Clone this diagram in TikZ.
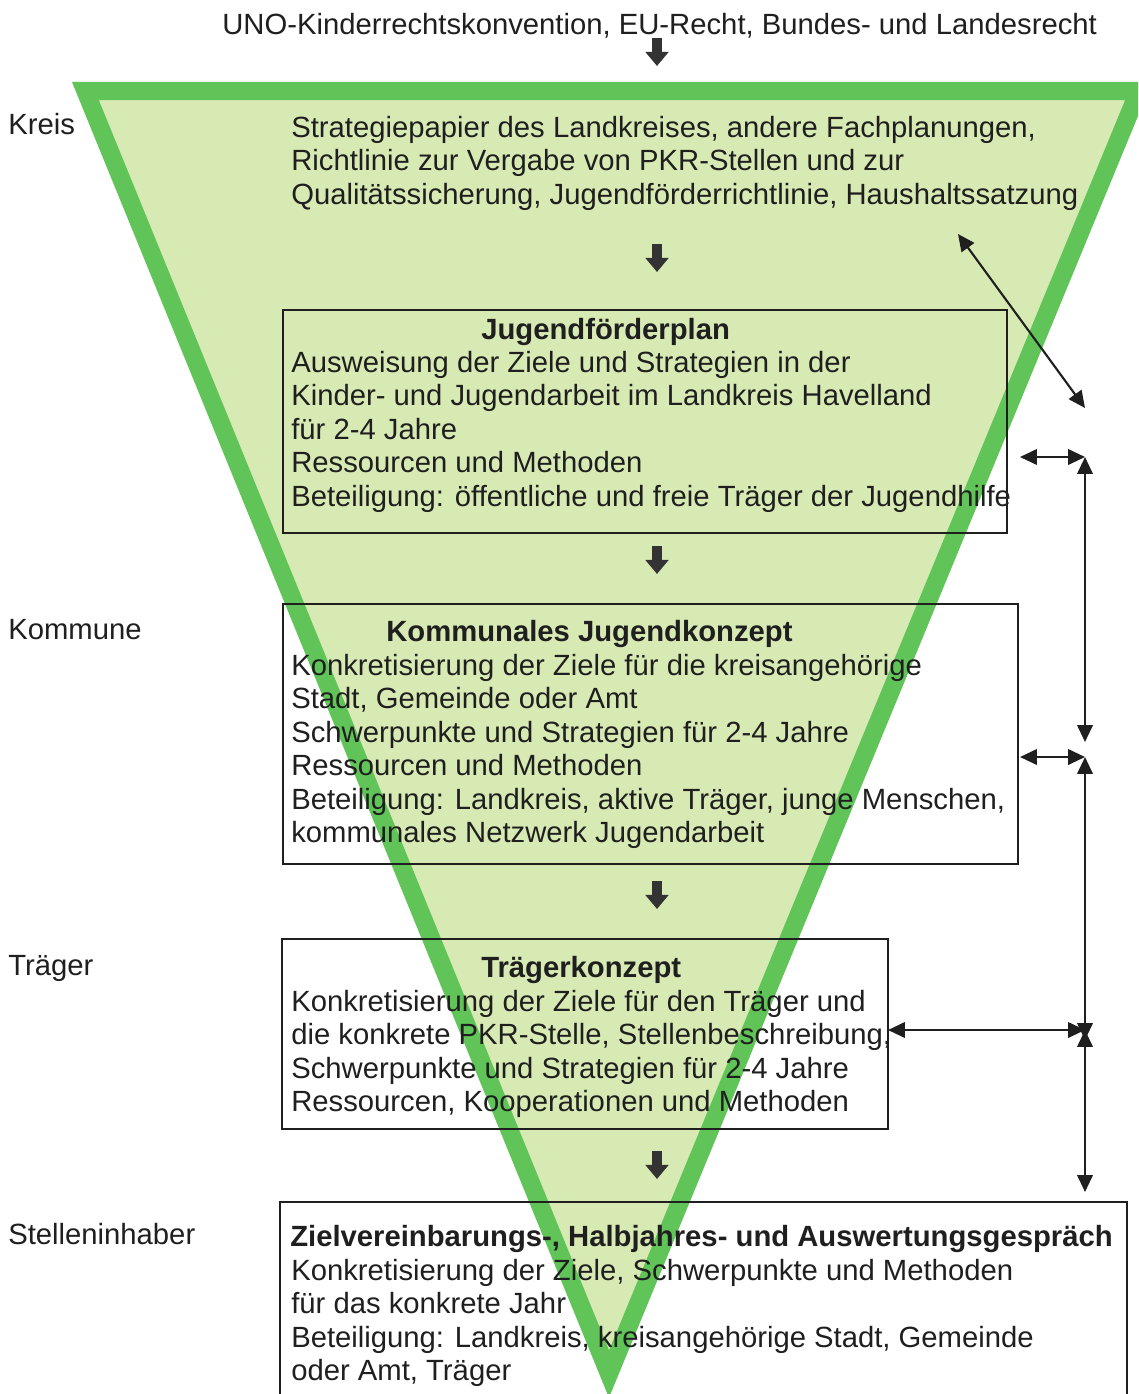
\documentclass[tikz,border=0pt]{standalone}
\usepackage{fontspec}
\setmainfont{Liberation Sans}
\usetikzlibrary{positioning,fit,arrows.meta}

\def\funnel{(85.4,91) -- (1138.6,91) -- (609,1374) -- cycle}
\definecolor{funnel area}{RGB}{216,234,180}
\definecolor{funnel edge}{RGB}{96,196,88}
\colorlet{ink}{black!88}
\tikzset{
  filled/.style={fill=funnel area},
  outline/.style={draw=funnel edge, line width=0.45cm, line join=miter},
  box/.style={draw=ink, line width=1.4pt, inner sep=0pt},
  txt/.style={font=\fontsize{20.8}{23.8}\selectfont, text=ink, align=left, anchor=base west, inner sep=0pt},
  title/.style={txt, font=\fontsize{20.8}{23.8}\selectfont\bfseries},
  fat/.style={draw=black!80, line width=7pt, -{Triangle[length=10pt,width=16pt]}}
  }
\tikzstyle{link} = [draw=ink, line width=1.5pt, >={Triangle[length=12pt,width=11pt]}, <->]

\begin{document}
\begin{tikzpicture}[x=0.025cm, y=-0.025cm]
  \clip (0,0) rectangle (1138,1394);
  \fill[white] (0,0) rectangle (1138,1394);

  \fill[filled] \funnel;
  \draw[outline] \funnel;

  \node[box, fit={(283,310) (1007,533)}] (plan) {};
  \node[box, fit={(283,604) (1018,864)}] (kommune) {};
  \node[box, fit={(282,939) (888,1129)}] (traeger) {};
  \node[box, fit={(280,1202) (1127,1430)}] (stelle) {};

  \foreach \pos/\name/\label in {{(8,134)/kreisL/Kreis}, {(8,639)/kommuneL/Kommune},
      {(8,975)/traegerL/Träger}, {(8,1244)/stelleL/Stelleninhaber}} {
    \node[txt] (\name) at \pos {\label};
  }

  % multi-line texts sit on the baseline of their last line
  \node[txt] (recht) at (222,34) {UNO-Kinderrechtskonvention, EU-Recht, Bundes- und Landesrecht};
  \node[txt] (papier) at (291,204) {Strategiepapier des Landkreises, andere Fachplanungen,\\
    Richtlinie zur Vergabe von PKR-Stellen und zur\\
    Qualitätssicherung, Jugendförderrichtlinie, Haushaltssatzung};

  \node[title] (planT) at (481,339) {Jugendförderplan};
  \node[txt] (planB) at (291,506) {Ausweisung der Ziele und Strategien in der\\
    Kinder- und Jugendarbeit im Landkreis Havelland\\
    für 2-4 Jahre\\
    Ressourcen und Methoden\\
    Beteiligung: öffentliche und freie Träger der Jugendhilfe};

  \node[title] (kommuneT) at (386,641) {Kommunales Jugendkonzept};
  \node[txt] (kommuneB) at (291,842.5) {Konkretisierung der Ziele für die kreisangehörige\\
    Stadt, Gemeinde oder Amt\\
    Schwerpunkte und Strategien für 2-4 Jahre\\
    Ressourcen und Methoden\\
    Beteiligung: Landkreis, aktive Träger, junge Menschen,\\
    kommunales Netzwerk Jugendarbeit};

  \node[title] (traegerT) at (481,977) {Trägerkonzept};
  \node[txt] (traegerB) at (291,1111.5) {Konkretisierung der Ziele für den Träger und\\
    die konkrete PKR-Stelle, Stellenbeschreibung,\\
    Schwerpunkte und Strategien für 2-4 Jahre\\
    Ressourcen, Kooperationen und Methoden};

  \node[title] (stelleT) at (290,1246) {Zielvereinbarungs-, Halbjahres- und Auswertungsgespräch};
  \node[txt] (stelleB) at (291,1380.5) {Konkretisierung der Ziele, Schwerpunkte und Methoden\\
    für das konkrete Jahr\\
    Beteiligung: Landkreis, kreisangehörige Stadt, Gemeinde\\
    oder Amt, Träger};

  \foreach \y/\name in {52/a1, 258/a2, 560/a3, 895/a4, 1165/a5} {
    \coordinate (\name) at (657,\y);
    \draw[fat] (\name) ++(0,-14) -- ++(0,28);
  }

  \coordinate (d1) at (958,234);
  \coordinate (d2) at (1085,408);
  \coordinate (h1) at (1020,457);
  \coordinate (v1) at (1085,457);
  \coordinate (v2) at (1085,742);
  \coordinate (h2) at (1020,757);
  \coordinate (v3) at (1085,757);
  \coordinate (v4) at (1085,1040);
  \coordinate (h3) at (888,1030);
  \coordinate (v5) at (1085,1030);
  \coordinate (v6) at (1085,1192);

  \foreach \a/\b in {d1/d2, h1/v1, v1/v2, h2/v3, v3/v4, h3/v5, v5/v6} {
    \path[link] (\a) -- (\b);
  }
\end{tikzpicture}
\end{document}
